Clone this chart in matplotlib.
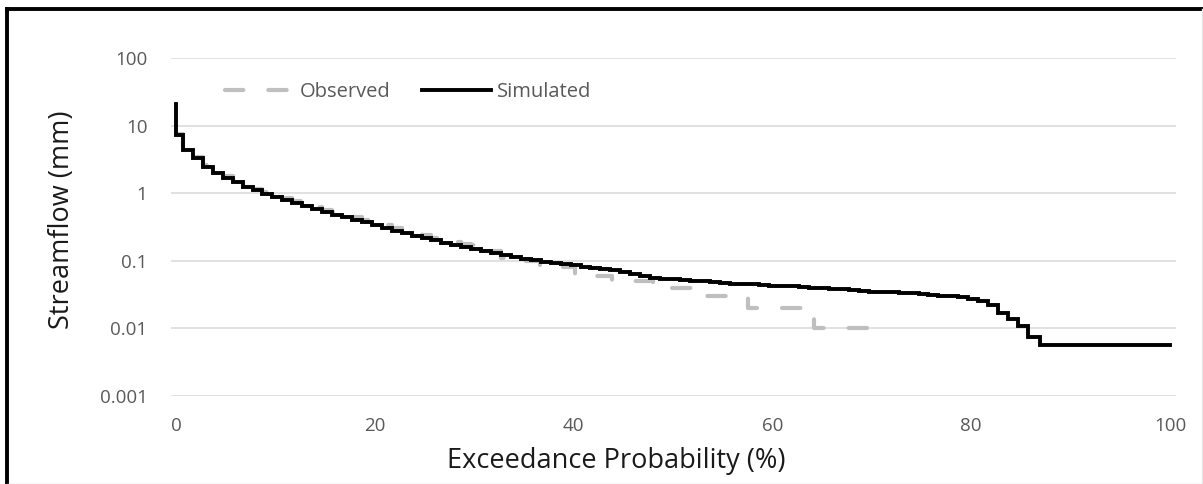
import matplotlib
matplotlib.use("Agg")
import matplotlib.pyplot as plt
from matplotlib.lines import Line2D

plt.rcParams['font.family'] = ['Open Sans', 'DejaVu Sans']

# ---- data ----
sim_pct = [0, 0, 0.7, 1.7, 2.7, 3.7, 4.7, 5.7, 6.7, 7.7, 8.7, 9.7,
           10.7, 11.7, 12.7, 13.7, 14.7, 15.7, 16.7, 17.7, 18.7, 19.7,
           20.7, 21.7, 22.7, 23.7, 24.7, 25.7, 26.7, 27.7, 28.7, 29.7,
           30.7, 31.7, 32.7, 33.7, 34.7, 35.7, 36.7, 37.7, 38.7, 39.7,
           40.7, 41.7, 42.7, 43.7, 44.7, 45.7, 46.7, 47.7, 48.7, 49.7,
           50.7, 51.7, 52.7, 53.7, 54.7, 55.7, 56.7, 57.7, 58.7, 59.7,
           60.7, 61.7, 62.7, 63.7, 64.7, 65.7, 66.7, 67.7, 68.7, 69.7,
           70.7, 71.7, 72.7, 73.7, 74.7, 75.7, 76.7, 77.7, 78.7, 79.7,
           80.7, 81.7, 82.7, 83.7, 84.7, 85.7, 86.9, 100]
sim_flow = [21, 7.3, 4.3, 3.3, 2.45, 2.0, 1.7, 1.45, 1.25, 1.1, 0.98, 0.88,
            0.79, 0.71, 0.64, 0.58, 0.53, 0.48, 0.44, 0.40, 0.37, 0.34,
            0.31, 0.28, 0.26, 0.235, 0.215, 0.2, 0.185, 0.172, 0.16, 0.15,
            0.14, 0.13, 0.122, 0.115, 0.108, 0.102, 0.097, 0.093, 0.089, 0.086,
            0.082, 0.079, 0.076, 0.073, 0.069, 0.064, 0.059, 0.056, 0.054, 0.053,
            0.052, 0.051, 0.05, 0.048, 0.047, 0.046, 0.0455, 0.045, 0.044, 0.043,
            0.0425, 0.042, 0.041, 0.04, 0.039, 0.0385, 0.038, 0.037, 0.036, 0.035,
            0.0345, 0.034, 0.0335, 0.033, 0.032, 0.031, 0.0305, 0.03, 0.029, 0.027,
            0.025, 0.022, 0.017, 0.014, 0.011, 0.0075, 0.0056, 0.0056]

obs_pct = [0, 0.7, 1.7, 2.7, 3.7, 4.7, 5.7, 6.7, 7.7, 8.7, 9.7, 10.7, 11.7,
           12.7, 13.7, 14.7, 15.7, 16.7, 17.7, 18.7, 19.7, 20.7, 21.7, 22.7,
           23.7, 24.7, 25.7, 26.7, 27.7, 28.7, 29.7, 30.7, 31.7, 32.7, 33.6,
           36.6, 40.1, 43.9, 48.0, 53.1, 57.5, 64.2, 71.3]
obs_flow = [7.6, 4.5, 3.4, 2.6, 2.1, 1.8, 1.5, 1.3, 1.17, 1.04, 0.94, 0.85,
            0.76, 0.69, 0.62, 0.57, 0.52, 0.48, 0.44, 0.40, 0.37, 0.34, 0.31,
            0.28, 0.26, 0.24, 0.22, 0.2, 0.19, 0.18, 0.17, 0.15, 0.14, 0.11,
            0.10, 0.08, 0.06, 0.05, 0.04, 0.03, 0.02, 0.01, 0.01]

x_ticks = [0, 20, 40, 60, 80, 100]
y_ticks = [0.001, 0.01, 0.1, 1, 10, 100]
y_tick_labels = ['0.001', '0.01', '0.1', '1', '10', '100']

# ---- figure ----
W, H = 1203, 484
fig = plt.figure(figsize=(W/100, H/100), dpi=100)
ax = fig.add_axes([171/W, 1-396/H, (1176-171)/W, (396-58)/H])

obs_line, = ax.plot(obs_pct, obs_flow, drawstyle='steps-post', color='#bfbfbf',
                    lw=3.0, dash_capstyle='round', zorder=2, label='Observed')
obs_line.set_dashes((4.4, 6.0))
ax.plot(sim_pct, sim_flow, drawstyle='steps-post', color='black', lw=2.8,
        solid_joinstyle='miter', zorder=3, label='Simulated')

ax.set_yscale('log')
ax.set_ylim(0.001, 100)
ax.set_xlim(-0.5, 100.6)
ax.set_xticks(x_ticks)
ax.set_xticklabels([str(t) for t in x_ticks])
ax.set_yticks(y_ticks)
ax.set_yticklabels(y_tick_labels)
ax.minorticks_off()
ax.tick_params(axis='both', length=0, labelsize=13.5, labelcolor='#595959')
ax.tick_params(axis='x', pad=15)
ax.tick_params(axis='y', pad=17)
ax.grid(axis='y', color='#d9d9d9', lw=1.1)
for s in ax.spines.values():
    s.set_visible(False)

fig.text(616/W, 1-461/H, 'Exceedance Probability (%)', fontsize=19.5,
         color='#1a1a1a', ha='center', va='center')
fig.text(62/W, 1-220/H, 'Streamflow (mm)', fontsize=19.5, color='#1a1a1a',
         ha='center', va='center', rotation=90)

leg = fig.legend(loc='center left', bbox_to_anchor=(225/W, 1-92/H), ncol=2,
                 frameon=False, fontsize=14.5, handlelength=3.4, handletextpad=0.3,
                 columnspacing=1.6, borderpad=0, borderaxespad=0)
for t in leg.get_texts():
    t.set_color('#595959')

# outer frame
fig.add_artist(Line2D([7/W, 1.0], [1-9.2/H, 1-9.2/H], transform=fig.transFigure,
                      color='black', lw=2.8))
fig.add_artist(Line2D([7/W, 7/W], [0, 1-9.2/H], transform=fig.transFigure,
                      color='black', lw=2.8))
fig.add_artist(Line2D([7/W, 1.0], [0.5/H, 0.5/H], transform=fig.transFigure,
                      color='#d9d9d9', lw=1))
fig.add_artist(Line2D([1-1.5/W, 1-1.5/W], [0, 1-9.2/H], transform=fig.transFigure,
                      color='#e6e6e6', lw=1))

fig.savefig('out.png', dpi=100)
